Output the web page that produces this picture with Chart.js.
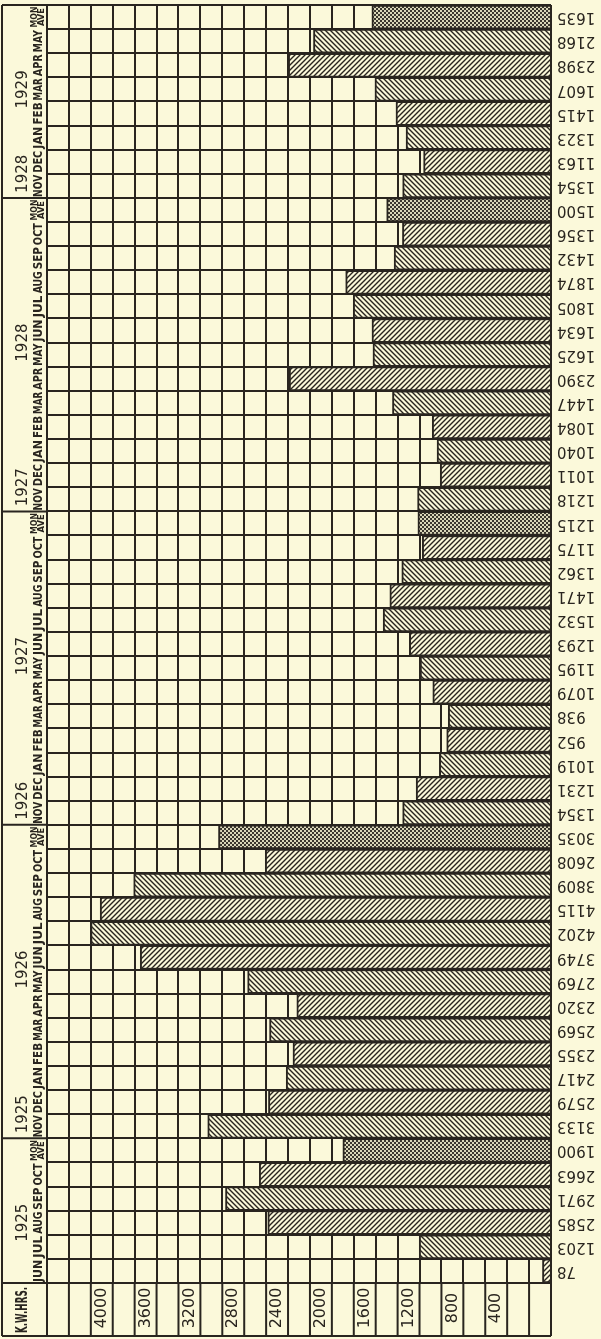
<!DOCTYPE html>
<html lang="en">
<head>
<meta charset="UTF-8">
<title>K.W. Hrs by month</title>
<script src="https://cdn.jsdelivr.net/npm/chart.js"></script>
<style>
  html, body { margin: 0; padding: 0; background: #fbf9da; }
  canvas { display: block; }
</style>
</head>
<body>
<canvas id="chart" width="601" height="1339"></canvas>
<script>
// rows go bottom -> top: 1925 JUN ... 1929 MAY, each year block closed by its monthly average
const monthNames = [
  'JUN','JUL','AUG','SEP','OCT','MON AVE',
  'NOV','DEC','JAN','FEB','MAR','APR','MAY','JUN','JUL','AUG','SEP','OCT','MON AVE',
  'NOV','DEC','JAN','FEB','MAR','APR','MAY','JUN','JUL','AUG','SEP','OCT','MON AVE',
  'NOV','DEC','JAN','FEB','MAR','APR','MAY','JUN','JUL','AUG','SEP','OCT','MON AVE',
  'NOV','DEC','JAN','FEB','MAR','APR','MAY','MON AVE'
];
const kwh = [
  78, 1203, 2585, 2971, 2663, 1900,
  3133, 2579, 2417, 2355, 2569, 2320, 2769, 3749, 4202, 4115, 3809, 2608, 3035,
  1354, 1231, 1019, 952, 938, 1079, 1195, 1293, 1532, 1471, 1362, 1175, 1215,
  1218, 1011, 1040, 1084, 1447, 2390, 1625, 1634, 1805, 1874, 1432, 1356, 1500,
  1354, 1163, 1323, 1415, 1607, 2398, 2168, 1635
];
// year captions: [text, first row, last row]
const yearSpans = [
  ['1925', 0, 4], ['1925', 6, 7], ['1926', 8, 17], ['1926', 19, 20],
  ['1927', 21, 30], ['1927', 32, 33], ['1928', 34, 43], ['1928', 45, 46], ['1929', 47, 51]
];
const tickLabels = [400, 800, 1200, 1600, 2000, 2400, 2800, 3200, 3600, 4000];

const ink = '#29251f';
const paper = '#fbf9da';
const frameLeft = 2, frameBottom = 1336;

function hatch(dir) {
  const c = document.createElement('canvas');
  c.width = c.height = 5;
  const g = c.getContext('2d');
  g.fillStyle = paper;
  g.fillRect(0, 0, 5, 5);
  g.strokeStyle = ink;
  g.lineWidth = 1.4;
  g.beginPath();
  if (dir > 0) {
    g.moveTo(-1, 6); g.lineTo(6, -1);
    g.moveTo(-1, 1); g.lineTo(1, -1);
    g.moveTo(4, 6); g.lineTo(6, 4);
  } else {
    g.moveTo(-1, -1); g.lineTo(6, 6);
    g.moveTo(4, -1); g.lineTo(6, 1);
    g.moveTo(-1, 4); g.lineTo(1, 6);
  }
  g.stroke();
  return g.createPattern(c, 'repeat');
}

function crossHatch() {
  const c = document.createElement('canvas');
  c.width = c.height = 4;
  const g = c.getContext('2d');
  g.fillStyle = '#d9d6b8';
  g.fillRect(0, 0, 4, 4);
  g.fillStyle = '#3a362e';
  g.fillRect(0, 0, 2, 2);
  g.fillRect(2, 2, 2, 2);
  return g.createPattern(c, 'repeat');
}

const fwd = hatch(1), back = hatch(-1), cross = crossHatch();
let m = 0;
const fills = monthNames.map(name => {
  if (name === 'MON AVE') return cross;
  return (m++ % 2 === 0) ? fwd : back;
});

const decorations = {
  id: 'decorations',
  beforeDraw(chart) {
    const ctx = chart.ctx;
    ctx.save();
    ctx.fillStyle = paper;
    ctx.fillRect(0, 0, chart.width, chart.height);
    ctx.restore();
  },
  afterDraw(chart) {
    const ctx = chart.ctx;
    const area = chart.chartArea;
    const x = chart.scales.x, y = chart.scales.y;
    const rowH = Math.abs(y.getPixelForValue(0) - y.getPixelForValue(1));
    ctx.save();
    ctx.strokeStyle = ink;
    ctx.fillStyle = ink;
    ctx.lineWidth = 2;

    // axis row under the bars
    ctx.beginPath();
    for (let v = 0; v <= 4600; v += 200) {
      const px = x.getPixelForValue(v);
      ctx.moveTo(px, area.bottom);
      ctx.lineTo(px, frameBottom);
    }
    ctx.moveTo(frameLeft, frameBottom); ctx.lineTo(area.right, frameBottom);
    ctx.moveTo(frameLeft, area.bottom); ctx.lineTo(area.right, area.bottom);
    ctx.moveTo(frameLeft, area.top); ctx.lineTo(area.right, area.top);
    ctx.moveTo(frameLeft, area.top); ctx.lineTo(frameLeft, frameBottom);
    ctx.moveTo(area.left, area.top); ctx.lineTo(area.left, frameBottom);
    ctx.moveTo(area.right, area.top); ctx.lineTo(area.right, frameBottom);
    // block separators in the month column
    monthNames.forEach((name, i) => {
      if (name === 'MON AVE' && i < monthNames.length - 1) {
        const top = y.getPixelForValue(i) - rowH / 2;
        ctx.moveTo(frameLeft, top); ctx.lineTo(area.left, top);
      }
    });
    ctx.stroke();

    // tick labels, rotated, in the cell left of each line
    ctx.textAlign = 'center';
    ctx.textBaseline = 'middle';
    ctx.font = '16px "DejaVu Sans"';
    tickLabels.forEach(v => {
      ctx.save();
      ctx.translate(x.getPixelForValue(v + 100), 1308);
      ctx.rotate(-Math.PI / 2);
      ctx.fillText(String(v), 0, 0);
      ctx.restore();
    });
    ctx.save();
    ctx.translate(23, 1310);
    ctx.rotate(-Math.PI / 2);
    ctx.font = 'bold 16px "DejaVu Sans"';
    ctx.fillText('K.W.HRS.', 0, 0, 46);
    ctx.restore();

    // month names
    monthNames.forEach((name, i) => {
      const py = y.getPixelForValue(i);
      ctx.save();
      ctx.translate(0, py);
      ctx.rotate(-Math.PI / 2);
      if (name === 'MON AVE') {
        ctx.font = 'bold 9px "DejaVu Sans"';
        ctx.fillText('MON', 0, 35, 21);
        ctx.fillText('AVE', 0, 42, 18);
      } else {
        ctx.font = 'bold 12px "DejaVu Sans"';
        ctx.fillText(name, 0, 39, rowH - 2);
      }
      ctx.restore();
    });

    // years above the months
    ctx.font = '15px "DejaVu Sans"';
    yearSpans.forEach(([yr, a, b]) => {
      const py = (y.getPixelForValue(a) + y.getPixelForValue(b)) / 2;
      ctx.save();
      ctx.translate(23, py);
      ctx.rotate(-Math.PI / 2);
      ctx.fillText(yr, 0, 0);
      ctx.restore();
    });

    // values written upside down at the right
    ctx.font = '15px "DejaVu Sans"';
    ctx.textAlign = 'right';
    kwh.forEach((v, i) => {
      ctx.save();
      ctx.translate(area.right + 6, y.getPixelForValue(i));
      ctx.rotate(Math.PI);
      ctx.fillText(String(v), 0, 0);
      ctx.restore();
    });
    ctx.restore();
  }
};

new Chart(document.getElementById('chart'), {
  type: 'bar',
  data: {
    labels: monthNames,
    datasets: [{
      data: kwh,
      backgroundColor: fills,
      borderColor: ink,
      borderWidth: 2,
      barPercentage: 1,
      categoryPercentage: 1
    }]
  },
  options: {
    indexAxis: 'y',
    responsive: false,
    animation: false,
    layout: { padding: { left: 47, right: 50, top: 5, bottom: 56 } },
    plugins: { legend: { display: false }, tooltip: { enabled: false } },
    scales: {
      x: {
        type: 'linear',
        min: 0,
        max: 4600,
        reverse: true,
        ticks: { display: false, stepSize: 200, maxTicksLimit: 100, autoSkip: false },
        grid: { color: ink, lineWidth: 2, drawTicks: false },
        border: { display: false }
      },
      y: {
        reverse: true,
        ticks: { display: false },
        grid: { color: ink, lineWidth: 2, drawTicks: false, offset: true },
        border: { display: false }
      }
    }
  },
  plugins: [decorations]
});
</script>
</body>
</html>
